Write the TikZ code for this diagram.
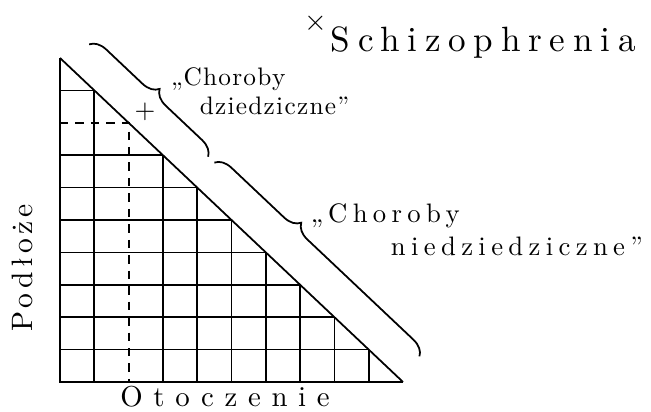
\documentclass[tikz,border=0pt]{standalone}
\usepackage{fontspec}
\setmainfont{lmroman10-regular.otf}
\usetikzlibrary{decorations.pathreplacing}

\begin{document}
\begin{tikzpicture}[x=0.8575cm, y=0.81cm, line width=1.25pt,
  hand/.style={inner sep=0pt, align=left},
  axis/.style={line width=1.9pt},
  bracket/.style={decorate, decoration={brace, amplitude=0.4cm, aspect=#1}}]

  \useasboundingbox (-1.75,-0.926) rectangle (17.23,11.79);

  \coordinate (top) at (0,10);
  \coordinate (origin) at (0,0);
  \coordinate (corner) at (10,0);

  % staircase of squares under the diagonal
  \foreach \k in {1,3,4,5,6,7,8,9}
    \draw (\k,0) -- (\k,10-\k);
  \foreach \k in {1,...,7,9}
    \draw (0,\k) -- (10-\k,\k);
  \draw[dash pattern=on 6pt off 5pt] (0,8) -- (2,8) -- (2,0);

  % the triangle
  \draw[axis] (top) -- (origin) -- (corner);
  \draw (top) -- (corner);

  % braces along the diagonal
  \coordinate (b1s) at (0.85,10.42);
  \coordinate (b1e) at (4.33,6.94);
  \coordinate (b2s) at (4.50,6.77);
  \coordinate (b2e) at (10.48,0.79);
  \draw[bracket=0.5] (b1s) -- (b1e);
  \draw[bracket=0.37] (b2s) -- (b2e);

  \node[hand, font=\fontsize{19}{22}\selectfont] (plus) at (2.48,8.33) {+};
  \node[hand, font=\fontsize{21}{24}\selectfont] (cross) at (7.46,11.07) {$\times$};
  \node[hand, anchor=base west,
    font=\fontsize{25}{30}\selectfont\addfontfeatures{LetterSpace=22}]
    (schizo) at (7.87,10.19) {Schizophrenia};
  \node[hand, anchor=base west,
    font=\fontsize{18}{20}\selectfont\addfontfeatures{LetterSpace=5}]
    (inherited) at (3.21,8.27) {„Choroby\\\hspace*{0.72cm}dziedziczne”};
  \node[hand, anchor=base west,
    font=\fontsize{19}{24}\selectfont\addfontfeatures{LetterSpace=20}]
    (noninherited) at (7.29,3.89) {„Choroby\\\hspace*{2.0cm}niedziedziczne”};

  \node[hand, anchor=base,
    font=\fontsize{20.5}{24}\selectfont\addfontfeatures{LetterSpace=37}]
    (environment) at (4.81,-0.77) {Otoczenie};
  \node[hand, rotate=90,
    font=\fontsize{21}{24}\selectfont\addfontfeatures{LetterSpace=14}]
    (background) at (-1.11,3.52) {Podłoże};

\end{tikzpicture}
\end{document}
